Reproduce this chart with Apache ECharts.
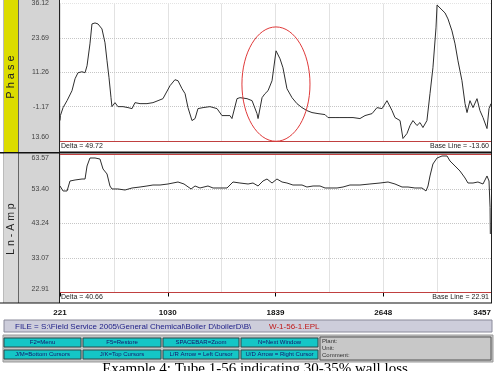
<!DOCTYPE html>
<html><head><meta charset="utf-8">
<script src="https://cdn.jsdelivr.net/npm/echarts@6/dist/echarts.min.js"></script>
<style>html,body{margin:0;padding:0;background:#fff}#c{width:500px;height:371px}</style>
</head><body><div id="c"></div>
<script>
// ---- data ----
const xStart = 221, xEnd = 3457;
const xTickLabels = ['221', '1030', '1839', '2648', '3457'];

const phaseMin = -13.60, phaseMax = 36.12;
const phaseTickLabels = ['13.60', '-1.17', '11.26', '23.69', '36.12'];
const phaseX = [221, 224, 244, 274, 311, 334, 356, 386, 409, 424, 446, 461, 484, 506, 536, 559, 574, 589, 604, 611, 634, 656, 694, 732, 762, 784, 822, 874, 919, 957, 994, 1009, 1047, 1084, 1107, 1137, 1160, 1182, 1212, 1235, 1257, 1295, 1347, 1400, 1437, 1475, 1497, 1512, 1550, 1572, 1625, 1663, 1700, 1708, 1738, 1760, 1783, 1813, 1843, 1873, 1895, 1925, 1963, 2000, 2038, 2075, 2113, 2158, 2211, 2233, 2248, 2286, 2323, 2376, 2421, 2473, 2511, 2564, 2601, 2639, 2676, 2691, 2714, 2736, 2774, 2796, 2826, 2849, 2871, 2901, 2924, 2946, 2976, 2999, 3021, 3044, 3052, 3074, 3112, 3134, 3164, 3187, 3209, 3239, 3262, 3277, 3299, 3322, 3352, 3374, 3397, 3427, 3442, 3457];
const phaseVal = [-6.2, -4.4, -1.53, 0.99, 4.59, 8.92, 11.08, 11.44, 11.08, 13.60, 21.53, 28.73, 29.09, 28.73, 26.93, 21.89, 15.40, 9.28, 2.07, -1.17, 0.27, -1.17, -1.17, -1.53, -1.89, 0.27, -0.09, -0.09, 0.27, 0.99, 1.71, 2.07, 6.39, 8.56, 8.20, 5.31, 3.51, -1.53, -6.21, -5.49, -1.89, -1.53, -1.17, -1.89, -4.41, -4.41, -4.41, -5.49, 1.71, 2.07, 1.71, 0.99, -3.69, -5.49, 2.07, 3.51, 4.59, 8.20, 19.01, 16.12, 12.88, 5.31, 2.07, -0.09, -1.53, -2.60, -3.32, -3.69, -4.05, -5.13, -5.49, -5.13, -5.13, -5.13, -5.13, -5.49, -4.41, -3.69, -1.53, -1.89, 0.99, 1.71, -2.60, -5.13, -6.21, -12.70, -10.90, -8.01, -6.21, -8.01, -6.93, -8.74, -6.21, 3.51, 12.88, 27.29, 35.58, 34.50, 32.70, 30.54, 26.21, 21.53, 15.40, 8.20, -0.09, -3.32, 0.99, -1.53, 1.71, -2.60, -5.13, -9.10, -1.89, -0.09];

const ampMin = 22.91, ampMax = 63.57;
const ampTickLabels = ['22.91', '33.07', '43.24', '53.40', '63.57'];
const ampX = [221, 244, 274, 296, 334, 386, 409, 424, 446, 484, 521, 544, 574, 596, 611, 656, 709, 762, 822, 874, 919, 972, 1032, 1107, 1152, 1205, 1235, 1272, 1332, 1370, 1475, 1520, 1572, 1633, 1670, 1708, 1745, 1775, 1813, 1850, 1888, 1925, 1970, 2038, 2075, 2121, 2173, 2211, 2248, 2301, 2346, 2398, 2473, 2548, 2624, 2684, 2736, 2789, 2834, 2886, 2939, 2969, 2984, 2999, 3021, 3052, 3089, 3127, 3149, 3187, 3224, 3262, 3284, 3322, 3359, 3397, 3427, 3442, 3450, 3452];
const ampVal = [54.29, 52.82, 52.82, 55.76, 56.06, 56.35, 56.35, 60.18, 62.54, 62.54, 62.24, 59.30, 57.83, 54.29, 53.41, 53.41, 53.11, 53.70, 53.99, 54.29, 54.58, 54.58, 54.88, 55.47, 54.88, 53.41, 54.29, 53.70, 54.29, 53.70, 53.70, 55.47, 55.17, 54.88, 55.17, 54.29, 55.76, 56.35, 55.17, 56.35, 55.47, 55.17, 54.58, 54.58, 53.99, 54.29, 54.29, 53.70, 53.70, 53.70, 53.99, 54.58, 54.58, 54.88, 55.17, 55.47, 54.88, 53.99, 53.99, 53.70, 53.70, 52.82, 54.29, 57.24, 60.77, 62.54, 63.13, 63.13, 61.66, 60.18, 58.71, 56.65, 55.17, 55.17, 55.47, 54.88, 57.24, 55.76, 48.0, 40.15];

// circled region (annotation), in data units of the phase panel
const circleX = [1587, 2098];
const circleY = [-13.7, 27.65];

// ---- build ----
const FONT = 'Liberation Sans, Arial, sans-serif';
const xSpan = xEnd - xStart;                 // 3236
const xLabelStep = xSpan / 4;                // 809
const phaseSpan = +(phaseMax - phaseMin).toFixed(2);
const phaseStep = phaseSpan / 4;
const ampSpan = +(ampMax - ampMin).toFixed(2);
const ampStep = ampSpan / 4;

const phaseData = phaseX.map((x, i) => [x - xStart, phaseVal[i] - phaseMin]);
const ampData = ampX.map((x, i) => [x - xStart, ampVal[i] - ampMin]);

const gridStyle = { color: '#c6c6c6', type: 'dotted', width: 1 };

function xAxisCfg(gridIndex, showLabels) {
  return {
    type: 'value', gridIndex, min: 0, max: xSpan, interval: xLabelStep,
    axisLine: { show: false },
    axisTick: { show: showLabels, length: 4, lineStyle: { color: '#000' } },
    axisLabel: showLabels ? {
      show: true, margin: 5, fontSize: 8, fontWeight: 'bold', color: '#111', fontFamily: FONT,
      alignMaxLabel: 'right',
      formatter: v => xTickLabels[Math.round(v / xLabelStep)] || ''
    } : { show: false },
    offset: showLabels ? 11 : 0,
    splitLine: { show: true, lineStyle: gridStyle },
    minorTick: { show: false, splitNumber: 2 },
    minorSplitLine: { show: true, lineStyle: gridStyle }
  };
}
function yAxisCfg(gridIndex, span, step, labels, maxAlign) {
  return {
    type: 'value', gridIndex, min: 0, max: span, interval: step,
    axisLine: { show: false }, axisTick: { show: false },
    axisLabel: {
      margin: 11, fontSize: 7, color: '#444', fontFamily: FONT,
      verticalAlignMinLabel: 'bottom',
      verticalAlignMaxLabel: maxAlign,
      formatter: v => labels[Math.round(v / step)] || ''
    },
    splitLine: { show: true, lineStyle: gridStyle }
  };
}

const L = 60, R = 491;
function line(x1, y1, x2, y2, color, w, z) {
  return { type: 'line', z: z == null ? 50 : z, silent: true, shape: { x1, y1, x2, y2 }, style: { stroke: color, lineWidth: w || 1 } };
}
function rect(x, y, w, h, fill, stroke, z) {
  return { type: 'rect', z: z == null ? -5 : z, silent: true, shape: { x, y, width: w, height: h }, style: { fill, stroke: stroke || null, lineWidth: 1 } };
}
function text(t, x, y, size, color, align, extra) {
  return Object.assign({ type: 'text', z: 60, silent: true, x, y,
    style: { text: t, fontSize: size, fontFamily: FONT, fill: color, align: align || 'left', verticalAlign: 'middle' } }, extra || {});
}

const buttons = [
  ['F2=Menu', 'F5=Restore', 'SPACEBAR=Zoom', 'N=Next Window'],
  ['J/M=Bottom Cursors', 'J/K=Top Cursors', 'L/R Arrow = Left Cursor', 'U/D Arrow = Right Cursor']
];
const btnX = [4, 83, 163, 241], btnW = [77, 78, 76, 77], btnY = [338, 350];

const graphics = [
  rect(3, 0, 15, 152, '#dcdc00'),
  rect(3, 154, 15, 149, '#d8d8d8'),
  rect(18, 0, 41, 303, '#d4d4d4'),
  line(L, 3, R, 3, '#fff', 1, 1),
  line(18.5, 0, 18.5, 303, '#666'),
  line(3.5, 0, 3.5, 303, '#bbb'),
  line(59.5, 0, 59.5, 303, '#222'),
  line(491.5, 0, 491.5, 303, '#222'),
  line(L, 141.5, R, 141.5, '#c04040'),
  line(L, 151.5, R, 151.5, '#888'),
  line(0, 152.8, 492, 152.8, '#111', 1.6),
  line(L, 154.5, R, 154.5, '#c04040'),
  line(L, 292.5, R, 292.5, '#c04040'),
  line(0, 303, 492, 303, '#111', 1.2),
  text('Delta = 49.72', 61, 146.5, 7, '#222'),
  text('Base Line = -13.60', 489, 146.5, 7, '#222', 'right'),
  text('Delta = 40.66', 61, 297.5, 7, '#222'),
  text('Base Line = 22.91', 489, 297.5, 7, '#222', 'right'),
  text('P h a s e', 11, 77, 11, '#222', 'center', { rotation: Math.PI / 2 }),
  text('L n - A m p', 11, 229, 10.5, '#222', 'center', { rotation: Math.PI / 2 }),
  // file bar
  rect(4, 320, 488, 12, '#cdcddb', '#8a8a9a', 1),
  text('FILE = S:\\Field Service 2005\\General Chemical\\Boiler D\\boilerD\\B\\', 15, 326.5, 8, '#1c1c86'),
  text('W-1-56-1.EPL', 269, 326.5, 8, '#c01818'),
  // button panel
  rect(3, 335, 490, 27, '#c4c4c4', '#999', 1),
  rect(320, 337, 171, 23, '#c8c8c8', '#555', 2),
  text('Plant:', 322, 341, 6, '#333'),
  text('Unit:', 322, 348, 6, '#333'),
  text('Comment:', 322, 355, 6, '#333'),
  { type: 'text', z: 60, silent: true, x: 255, y: 362,
    style: { text: 'Example 4: Tube 1-56 indicating 30-35% wall loss', fontSize: 15,
      fontFamily: 'Liberation Serif, Times New Roman, serif', fill: '#000', align: 'center', verticalAlign: 'top' } }
];
buttons.forEach((row, r) => row.forEach((label, c) => {
  graphics.push(rect(btnX[c], btnY[r], btnW[c], 9, '#14c6c6', '#2a4a4a', 2));
  graphics.push(text(label, btnX[c] + btnW[c] / 2, btnY[r] + 4.8, 6, '#15156a', 'center'));
}));

const chart = echarts.init(document.getElementById('c'), null, { renderer: 'canvas' });
chart.setOption({
  animation: false,
  backgroundColor: '#fff',
  grid: [
    { left: L, top: 3, width: R - L, height: 138 },
    { left: L, top: 154.5, width: R - L, height: 138 }
  ],
  xAxis: [xAxisCfg(0, false), xAxisCfg(1, true)],
  yAxis: [yAxisCfg(0, phaseSpan, phaseStep, phaseTickLabels, 'middle'), yAxisCfg(1, ampSpan, ampStep, ampTickLabels, 'top')],
  series: [
    { type: 'line', xAxisIndex: 0, yAxisIndex: 0, data: phaseData, showSymbol: false, symbol: 'none',
      lineStyle: { color: '#2e2e2e', width: 1 }, z: 10 },
    { type: 'line', xAxisIndex: 1, yAxisIndex: 1, data: ampData, showSymbol: false, symbol: 'none',
      lineStyle: { color: '#2e2e2e', width: 1 }, z: 10 }
  ],
  graphic: { elements: graphics.map((g, i) => Object.assign({ id: 'g' + i }, g)) }
});

// annotation ellipse positioned through the phase axes
const p1 = chart.convertToPixel({ xAxisIndex: 0, yAxisIndex: 0 }, [circleX[0] - xStart, circleY[1] - phaseMin]);
const p2 = chart.convertToPixel({ xAxisIndex: 0, yAxisIndex: 0 }, [circleX[1] - xStart, circleY[0] - phaseMin]);
chart.setOption({
  graphic: { elements: [{ id: 'ellipse', type: 'ellipse', z: 70, silent: true,
    shape: { cx: (p1[0] + p2[0]) / 2, cy: (p1[1] + p2[1]) / 2, rx: Math.abs(p2[0] - p1[0]) / 2, ry: Math.abs(p2[1] - p1[1]) / 2 },
    style: { fill: null, stroke: '#e03a3a', lineWidth: 1 } }] }
});
</script>
</body></html>
